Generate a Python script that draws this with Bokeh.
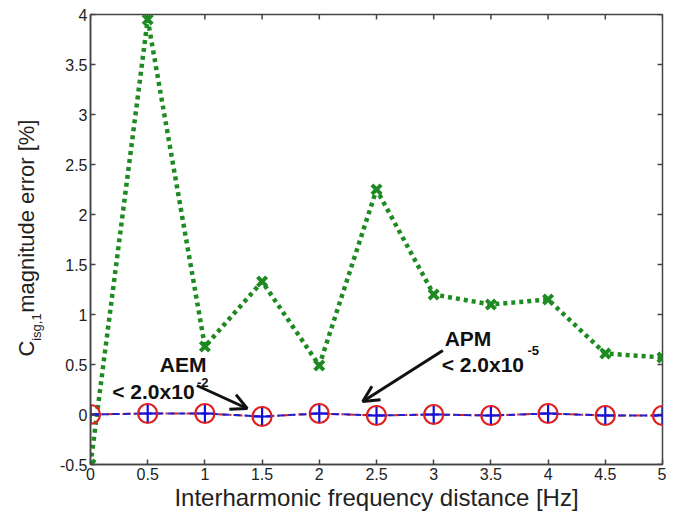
import math
from bokeh.plotting import figure
from bokeh.layouts import row
from bokeh.core.properties import value
from bokeh.models import FixedTicker, Label, Arrow, OpenHead, Range1d
from bokeh.embed import file_html
from bokeh.resources import INLINE

# ---- data ----
freq = [0, 0.5, 1, 1.5, 2, 2.5, 3, 3.5, 4, 4.5, 5]
green_err = [-0.5, 3.95, 0.68, 1.33, 0.49, 2.25, 1.2, 1.1, 1.15, 0.61, 0.57]
red_err = [0.0, 0.01, 0.01, -0.02, 0.01, -0.01, 0.0, -0.01, 0.01, -0.01, -0.01]
blue_err = [0.0, 0.01, 0.01, -0.02, 0.01, -0.01, 0.0, -0.01, 0.01, -0.01, -0.01]
x_ticks = [0, 0.5, 1, 1.5, 2, 2.5, 3, 3.5, 4, 4.5, 5]
x_tick_labels = ["0", "0.5", "1", "1.5", "2", "2.5", "3", "3.5", "4", "4.5", "5"]
y_ticks = [-0.5, 0, 0.5, 1, 1.5, 2, 2.5, 3, 3.5, 4]
y_tick_labels = ["-0.5", "0", "0.5", "1", "1.5", "2", "2.5", "3", "3.5", "4"]
y_label_parts = ["C", "isg,1", "magnitude error [%]"]

FONT = "Liberation Sans"
GREEN = "#1e8a22"
AXC = "#444444"
H = 513
LW = 52  # width of the y-label strip

p = figure(width=666 - LW, height=H, output_backend="svg", toolbar_location=None,
           x_range=Range1d(0, 5), y_range=Range1d(-0.5, 4),
           min_border_left=90 - LW, min_border_right=4, min_border_top=14, min_border_bottom=47)
p.grid.visible = False
p.outline_line_color = AXC
p.outline_line_width = 1.5
p.background_fill_color = "white"

for ax in (p.xaxis[0], p.yaxis[0]):
    ax.major_tick_in = 5
    ax.major_tick_out = 0
    ax.minor_tick_line_color = None
    ax.axis_line_color = AXC
    ax.axis_line_width = 1.5
    ax.major_tick_line_color = AXC
    ax.major_tick_line_width = 1.5
    ax.major_label_text_font = FONT
    ax.major_label_text_font_size = "16px"
    ax.major_label_text_color = "#222222"

p.xaxis[0].ticker = FixedTicker(ticks=x_ticks)
p.xaxis[0].major_label_overrides = {t: l for t, l in zip(x_ticks, x_tick_labels)}
p.yaxis[0].ticker = FixedTicker(ticks=y_ticks)
p.yaxis[0].major_label_overrides = {t: l for t, l in zip(y_ticks, y_tick_labels)}
p.xaxis[0].major_label_standoff = 3
p.yaxis[0].major_label_standoff = 3

p.xaxis[0].axis_label = "Interharmonic frequency distance [Hz]"
p.xaxis[0].axis_label_text_font = FONT
p.xaxis[0].axis_label_text_font_size = "24px"
p.xaxis[0].axis_label_text_font_style = "normal"
p.xaxis[0].axis_label_text_color = "#222222"
p.xaxis[0].axis_label_standoff = 1

# inward ticks on the top and right edges (half of each dash is clipped by the frame)
p.scatter(x_ticks, [max(y_ticks)] * len(x_ticks), marker="dash", angle=math.pi / 2,
          size=10, line_color=AXC, line_width=1.5)
p.scatter([max(x_ticks)] * len(y_ticks), y_ticks, marker="dash",
          size=10, line_color=AXC, line_width=1.5)

# series
p.line(freq, green_err, line_color=GREEN, line_width=4.5, line_dash="4 4")
p.scatter(freq, green_err, marker="x", size=13, line_color=GREEN, line_width=4)

p.line(freq, red_err, line_color="#d42020", line_width=2, line_dash="8 3 2 3")
p.line(freq, blue_err, line_color="#2020d0", line_width=2, line_dash="7 4")
p.scatter(freq, red_err, marker="circle", size=19, fill_color=None, line_color="#e02020", line_width=2.2)
p.scatter(freq, blue_err, marker="cross", size=17, line_color="#1010e0", line_width=2.2)

# annotations
def bold(x, y, t, size="21px", align="left"):
    p.add_layout(Label(x=x, y=y, text=t, text_align=align, text_baseline="alphabetic",
                       text_font=FONT, text_font_size=size, text_font_style="bold",
                       text_color="#111111"))

bold(0.81, 0.50, "AEM", align="center")
bold(0.19, 0.23, "< 2.0x10")
bold(0.93, 0.32, "-2", size="13px")
bold(3.30, 0.76, "APM", align="center")
bold(3.07, 0.50, "< 2.0x10")
bold(3.82, 0.64, "-5", size="13px")

p.add_layout(Arrow(x_start=0.93, y_start=0.29, x_end=1.37, y_end=0.06,
                   line_color="#111111", line_width=3,
                   end=OpenHead(size=16, line_color="#111111", line_width=3)))
p.add_layout(Arrow(x_start=3.08, y_start=0.64, x_end=2.38, y_end=0.13,
                   line_color="#111111", line_width=3,
                   end=OpenHead(size=16, line_color="#111111", line_width=3)))

# y-axis label strip (pixel-like coordinates, y measured from the strip bottom)
lab = figure(width=LW, height=H, output_backend="svg", toolbar_location=None,
             x_range=Range1d(0, LW), y_range=Range1d(0, H),
             x_axis_location=None, y_axis_location=None, min_border=0)
lab.grid.visible = False
lab.outline_line_color = None
lab.text(x=[26], y=[H - 390], text=y_label_parts[:1], angle=math.pi / 2,
         text_align="left", text_baseline="middle", text_font=value(FONT),
         text_font_size="22px", text_color="#222222")
lab.text(x=[36], y=[H - 372], text=y_label_parts[1:2], angle=math.pi / 2,
         text_align="left", text_baseline="middle", text_font=value(FONT),
         text_font_size="13px", text_color="#222222")
lab.text(x=[26], y=[H - 340], text=y_label_parts[2:], angle=math.pi / 2,
         text_align="left", text_baseline="middle", text_font=value(FONT),
         text_font_size="22px", text_color="#222222")

layout = row(lab, p, spacing=0)
open("out.html", "w").write(file_html(layout, INLINE))
